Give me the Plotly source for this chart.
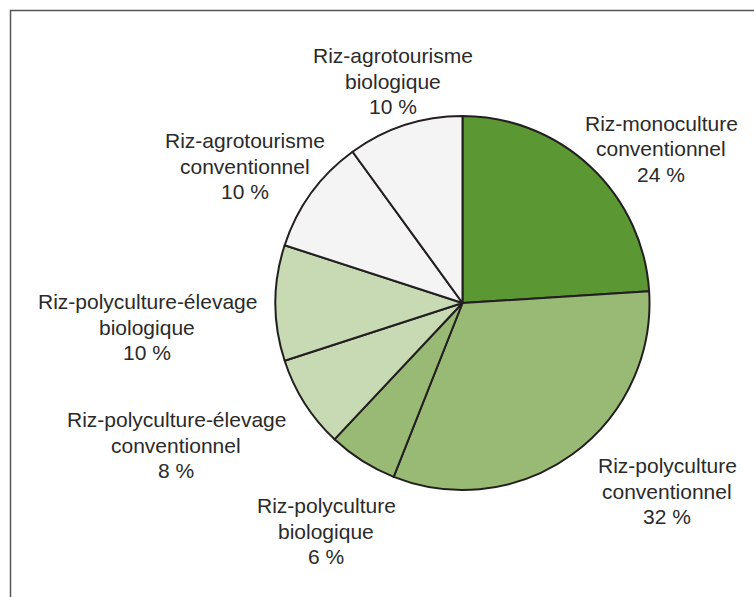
import plotly.graph_objects as go

W, H = 754, 597

categories = [
    "Riz-monoculture conventionnel",
    "Riz-polyculture conventionnel",
    "Riz-polyculture biologique",
    "Riz-polyculture-élevage conventionnel",
    "Riz-polyculture-élevage biologique",
    "Riz-agrotourisme conventionnel",
    "Riz-agrotourisme biologique",
]
label_lines = [
    ("Riz-monoculture", "conventionnel"),
    ("Riz-polyculture", "conventionnel"),
    ("Riz-polyculture", "biologique"),
    ("Riz-polyculture-élevage", "conventionnel"),
    ("Riz-polyculture-élevage", "biologique"),
    ("Riz-agrotourisme", "conventionnel"),
    ("Riz-agrotourisme", "biologique"),
]
values = [24, 32, 6, 8, 10, 10, 10]
colors = ["#5b9732", "#98ba74", "#98ba74", "#c8dab4", "#c8dab4", "#f4f4f4", "#f4f4f4"]

# label centre positions in pixels (x, y of the middle line)
label_pos = [(661, 149), (667, 491), (326, 531), (176, 445), (147, 327), (245, 166), (393, 81)]
LINE_GAP = 25.5

cx, cy, r = 462.5, 303, 187

fig = go.Figure(go.Pie(
    labels=categories,
    values=values,
    sort=False,
    direction="clockwise",
    rotation=0,
    marker=dict(colors=colors, line=dict(color="#231f20", width=2)),
    textinfo="none",
    hoverinfo="skip",
    showlegend=False,
    domain=dict(x=[(cx - r) / W, (cx + r) / W], y=[1 - (cy + r) / H, 1 - (cy - r) / H]),
))

annotations = []
for (l1, l2), v, (x, y) in zip(label_lines, values, label_pos):
    for k, line in enumerate([l1, l2, f"{v} %"]):
        annotations.append(dict(
            x=x / W, y=1 - (y + (k - 1) * LINE_GAP) / H, xref="paper", yref="paper",
            xanchor="center", yanchor="middle", showarrow=False, align="center",
            text=line,
            font=dict(family="Liberation Sans, Arial, sans-serif", size=21, color="#2a2a2a"),
        ))

fig.update_layout(
    width=W, height=H,
    margin=dict(l=0, r=0, t=0, b=0),
    paper_bgcolor="white",
    plot_bgcolor="white",
    annotations=annotations,
    shapes=[dict(type="rect", xref="paper", yref="paper",
                 x0=10.5 / W, x1=1.02, y0=-0.02, y1=1 - 10.5 / H,
                 line=dict(color="#555555", width=1.5))],
)

fig.write_html("out.html", config={"displayModeBar": False},
               post_script="document.body.style.margin='0';")
